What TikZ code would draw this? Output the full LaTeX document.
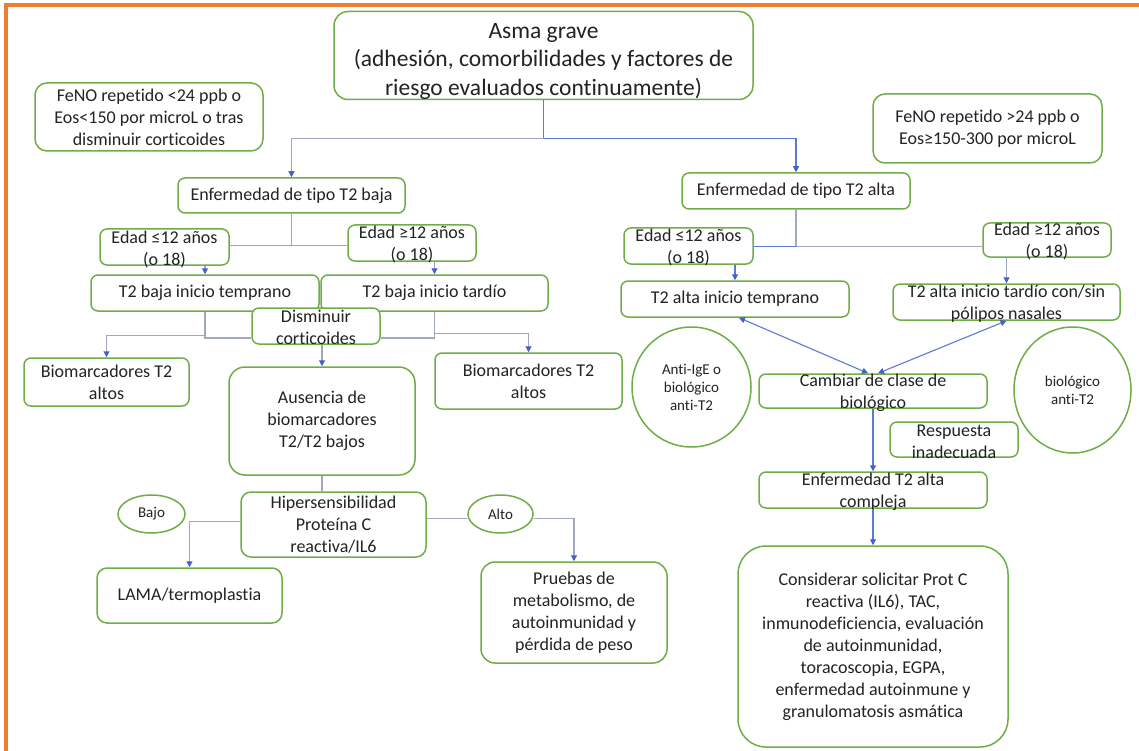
\documentclass[tikz,border=0pt]{standalone}
\usepackage{fontspec}
\setmainfont{Carlito}[Ligatures={NoCommon}]
\usetikzlibrary{arrows.meta,shapes.geometric}
\definecolor{boxgreen}{RGB}{112,173,71}
\definecolor{frameorange}{RGB}{237,125,49}
\definecolor{linegray}{RGB}{160,168,192}
\definecolor{lineblue}{RGB}{90,122,215}
\definecolor{tipblue}{RGB}{70,95,205}
\definecolor{ink}{RGB}{35,35,35}
\newcommand\fsmain{\fontsize{18}{22}\selectfont}
\newcommand\fstitle{\fontsize{23.5}{28.5}\selectfont}
\newcommand\fssmall{\fontsize{15}{18}\selectfont}

\begin{document}
\begin{tikzpicture}[x=1pt,y=-1pt,
  box/.style={draw=boxgreen,line width=1.5pt,rounded corners=7pt,fill=white,
    inner sep=0pt,align=center,text=ink,font=\fsmain},
  oval/.style={ellipse,draw=boxgreen,line width=1.5pt,fill=white,inner sep=0pt,
    align=center,text=ink,font=\fssmall},
  txt/.style={inner sep=0pt,align=center,text=ink,font=\fsmain},
  gline/.style={draw=linegray,line width=1.1pt},
  bline/.style={draw=lineblue,line width=1.1pt},
  tip/.style={-{Triangle[length=6pt,width=6pt,color=tipblue]}},
  both/.style={{Triangle[length=6pt,width=6pt,color=tipblue]}-{Triangle[length=6pt,width=6pt,color=tipblue]}},
]
% page
\path[use as bounding box,fill=white] (0,0) rectangle (1139,751);
\draw[frameorange,line width=3.5pt] (6,760) -- (6,5) -- (1145,5);

% top and criteria
\node[box,rounded corners=14pt,minimum width=419pt,minimum height=88pt] (top) at (543.5,55.5) {};
\node[txt,font=\fstitle] (topt) at (543.5,61)
  {Asma grave\\(adhesión, comorbilidades y factores de\\riesgo evaluados continuamente)};
\node[box,rounded corners=12pt,minimum width=228pt,minimum height=68pt] (fenoL) at (149,117)
  {FeNO repetido <24 ppb o\\Eos<150 por microL o tras\\disminuir corticoides};
\node[box,rounded corners=12pt,minimum width=229pt,minimum height=69pt] (fenoR) at (987.5,128.5)
  {FeNO repetido >24 ppb o\\Eos≥150-300 por microL};

\node[box,minimum width=227pt,minimum height=35pt] (t2b) at (291.5,195.5) {Enfermedad de tipo T2 baja};
\node[box,minimum width=228pt,minimum height=36pt] (t2a) at (796,191) {Enfermedad de tipo T2 alta};

% low T2 branch
\node[box,minimum width=129pt,minimum height=36pt] (e1) at (164.5,247) {};
\node[box,minimum width=128pt,minimum height=36pt] (e2) at (412,243) {};
\node[box,minimum width=228pt,minimum height=36pt] (t2bt) at (205,293) {T2 baja inicio temprano};
\node[box,minimum width=227pt,minimum height=36pt] (t2bl) at (434.5,293) {T2 baja inicio tardío};
\node[box,minimum width=128pt,minimum height=36pt] (dism) at (316,326) {};
\node[box,minimum width=165pt,minimum height=48pt] (bioL) at (106.5,382) {Biomarcadores T2\\altos};
\node[box,minimum width=187pt,minimum height=56pt] (bioR) at (528.5,381) {Biomarcadores T2\\altos};
\node[box,rounded corners=16pt,minimum width=186pt,minimum height=108pt] (aus) at (322,421)
  {Ausencia de\\biomarcadores\\T2/T2 bajos};
\node[box,rounded corners=10pt,minimum width=185pt,minimum height=65pt] (hip) at (333.5,524.5)
  {Hipersensibilidad\\Proteína C\\reactiva/IL6};
\node[oval,minimum width=67pt,minimum height=38pt] (bajo) at (151.5,514) {Bajo};
\node[oval,minimum width=65pt,minimum height=38pt] (alto) at (500.5,514) {Alto};
\node[box,rounded corners=10pt,minimum width=185pt,minimum height=55pt] (lama) at (189.5,595.5) {LAMA/termoplastia};
\node[box,rounded corners=14pt,minimum width=186pt,minimum height=101pt] (pru) at (574,612.5)
  {Pruebas de\\metabolismo, de\\autoinmunidad y\\pérdida de peso};

% high T2 branch
\node[box,minimum width=129pt,minimum height=36pt] (e3) at (688.5,246) {};
\node[box,minimum width=128pt,minimum height=34pt] (e4) at (1047,240) {};
\node[box,minimum width=228pt,minimum height=36pt] (t2at) at (735,299) {T2 alta inicio temprano};
\node[box,minimum width=227pt,minimum height=36pt] (t2al) at (1006.5,302) {};
\node[oval,minimum width=119pt,minimum height=120pt] (antiige) at (691.5,387) {Anti-IgE o\\biológico\\anti-T2};
\node[box,minimum width=228pt,minimum height=34pt] (camb) at (873,391) {};
\node[oval,minimum width=117pt,minimum height=126pt] (bioant) at (1072.5,390) {biológico\\anti-T2};
\node[box,minimum width=128pt,minimum height=35pt] (resp) at (954,439.5) {};
\node[box,minimum width=228pt,minimum height=36pt] (comp) at (873,490) {};
\node[box,rounded corners=28pt,minimum width=270pt,minimum height=201pt] (cons) at (873,646.5)
  {Considerar solicitar Prot C\\reactiva (IL6), TAC,\\inmunodeficiencia, evaluación\\de autoinmunidad,\\toracoscopia, EGPA,\\enfermedad autoinmune y\\granulomatosis asmática};

% labels that spill over their frames
\node[txt] (e1t) at (164.5,249) {Edad ≤12 años\\(o 18)};
\node[txt] (e2t) at (412,244.5) {Edad ≥12 años\\(o 18)};
\node[txt] (dismt) at (316,327.5) {Disminuir\\corticoides};
\node[txt] (e3t) at (688.5,247.5) {Edad ≤12 años\\(o 18)};
\node[txt] (e4t) at (1047,241.5) {Edad ≥12 años\\(o 18)};
\node[txt] (t2alt) at (1006.5,303.5) {T2 alta inicio tardío con/sin\\pólipos nasales};
\node[txt] (cambt) at (873,393) {Cambiar de clase de\\biológico};
\node[txt] (respt) at (954,441.5) {Respuesta\\inadecuada};
\node[txt] (compt) at (873,491.5) {Enfermedad T2 alta\\compleja};

% connectors: top split
\coordinate (jt) at ([yshift=-38pt]top.south);
\draw[bline] (top.south) -- (jt);
\draw[gline,tip] (jt) -| (t2b.north);
\draw[bline,tip] (jt) -| (t2a.north);

% connectors: low T2
\coordinate (jb) at ([yshift=-32pt]t2b.south);
\draw[gline] (t2b.south) -- (jb);
\draw[gline] (jb -| e1.east) -- (jb -| e2.west);
\draw[gline,tip] (e1.south -| t2bt.north) -- (t2bt.north);
\draw[gline,tip] (e2.south -| t2bl.north) -- (t2bl.north);
\coordinate (jl) at ([yshift=-24pt]t2bt.south);
\coordinate (dl) at ([yshift=-12pt]dism.west);
\draw[gline] (t2bt.south) |- (dl);
\draw[gline,tip] (jl) -| (bioL.north);
\coordinate (jr) at ([yshift=-22pt]t2bl.south);
\coordinate (dr) at ([yshift=-12pt]dism.east);
\draw[gline] (t2bl.south) |- (dr);
\draw[gline,tip] (jr) -| (bioR.north);
\draw[gline,tip] (dism.south -| aus.north) -- (aus.north);
\draw[gline] (aus.south) -- (aus.south |- hip.north);
\draw[gline,tip] ([yshift=3pt]hip.west) -| (lama.north);
\coordinate (ha) at ([yshift=6pt]hip.east);
\draw[gline] (ha) -- (ha -| alto.west);
\draw[gline,tip] (ha -| alto.east) -| (pru.north);

% connectors: high T2
\coordinate (ja) at ([yshift=-37pt]t2a.south);
\draw[gline] (t2a.south) -- (ja);
\draw[bline] (ja) -- (ja -| e3.east);
\draw[gline] (ja) -- (ja -| e4.west);
\draw[bline,tip] (e3.south -| t2at.north) -- (t2at.north);
\draw[gline,tip] (e4.south -| t2al.north) -- (t2al.north);
\draw[bline,both] ([xshift=4pt]t2at.south) -- ([xshift=-5pt]camb.north);
\draw[bline,both] (t2al.south) -- ([xshift=5pt]camb.north);
\draw[bline,tip] (camb.south) -- (comp.north);
\draw[bline,tip] (comp.south) -- (cons.north);
\end{tikzpicture}
\end{document}
